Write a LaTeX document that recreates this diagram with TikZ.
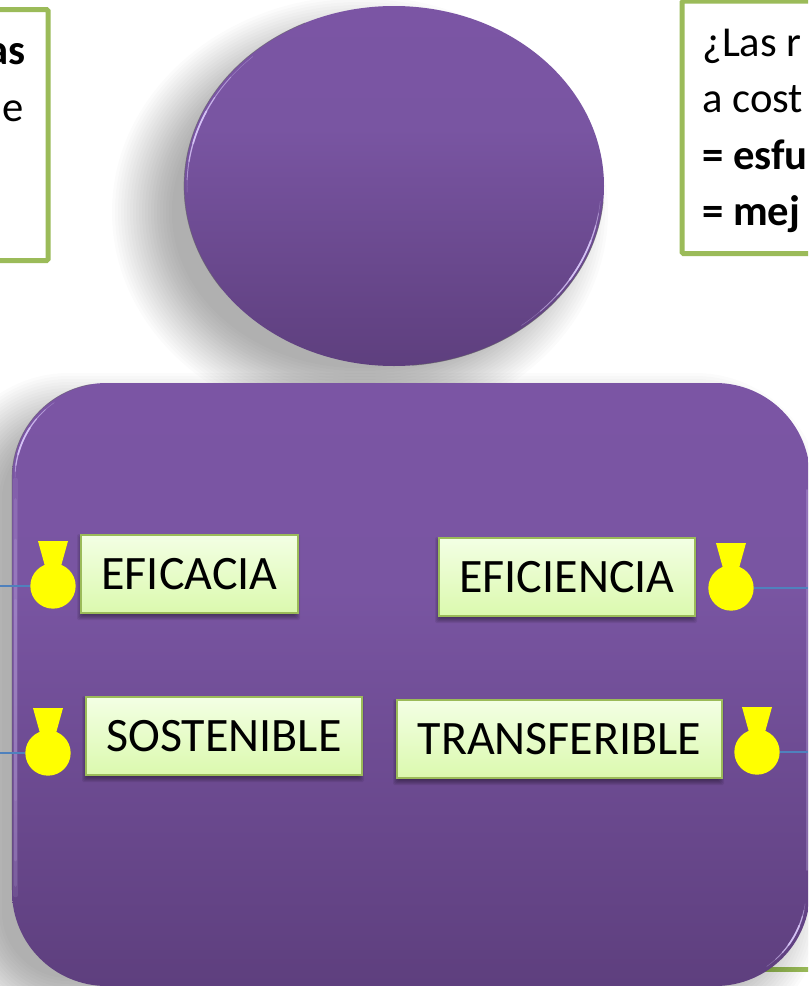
\documentclass[tikz,border=0pt]{standalone}
\usepackage{fontspec}
\setmainfont{Carlito}
\usetikzlibrary{shapes.geometric}
\definecolor{pb}{HTML}{5E3F7E}
\definecolor{pm}{HTML}{7955A2}
\definecolor{pt}{HTML}{7B55A4}
\definecolor{lime}{HTML}{9BBB59}
\definecolor{wire}{HTML}{4F81BD}
\definecolor{glow}{HTML}{D8C6F8}
\definecolor{keytop}{HTML}{F3FFE4}
\definecolor{keybot}{HTML}{DBF9AE}
\definecolor{medalfill}{HTML}{FFFF00}
\pgfdeclareverticalshading{purp}{100bp}{color(0bp)=(pb);color(25bp)=(pb);color(58bp)=(pm);color(75bp)=(pt);color(100bp)=(pt)}
\tikzset{
 px/.style={x=0.75pt,y=-0.75pt},
 purple shape/.style={shading=purp,draw=none,inner sep=0pt,outer sep=0pt},
 notebox/.style={draw=lime,line width=3.75pt,fill=white,rounded corners=1pt},
 notetext/.style={font=\fontsize{32}{32}\selectfont,inner sep=0pt,text=black},
 notebold/.style={font=\fontsize{32}{32}\selectfont\bfseries,inner sep=0pt,text=black},
 keybox/.style={draw=lime,line width=1.5pt,top color=keytop,bottom color=keybot,inner sep=0pt,outer sep=0pt,font=\fontsize{36}{36}\selectfont,text=black},
 medal/.style={circle,fill=medalfill,draw=none,minimum size=34pt,inner sep=0pt,outer sep=0pt},
 medaltop/.style={fill=medalfill,draw=none},
 feed/.style={draw=wire,line width=1.1pt},
 softshade/.style={fill=black,opacity=0.0163},
 rim/.style={line cap=round,draw=glow},
}
\newcommand{\keyshadow}[4]{%
 \foreach \dd in {0,1,...,5}{\fill[black,opacity=0.07,rounded corners=1pt] ({#1-1-\dd+2},{#2+2-\dd+2}) rectangle ({#3-1+\dd-2},{#4+2+\dd});}}
\newcommand{\keynode}[6]{%
 \keyshadow{#2}{#3}{#4}{#5}%
 \node[keybox,anchor=north west,minimum width={(#4-#2)*0.75pt},minimum height={(#5-#3)*0.75pt}] (#1) at (#2,#3) {\raisebox{-1.5pt}{#6}};}
\newcommand{\medalnode}[3]{%
 \fill[medaltop] ({#2-15},{#3-45}) -- ({#2+15},{#3-45}) -- ({#2+7.5},{#3-18}) -- ({#2-7.5},{#3-18}) -- cycle;
 \node[medal] (#1) at (#2,#3) {};}
\begin{document}
\begin{tikzpicture}[px]
\useasboundingbox (0,0) rectangle (808,986);
\clip (0,0) rectangle (808,986);
\fill[white] (0,0) rectangle (808,986);
% notes
\draw[notebox] (-20,9.5) rectangle (48,260.5);
\node[notebold,anchor=base east] (noteA) at (26,64) {as};
\node[notetext,anchor=base east] (noteB) at (24,121) {e};
\draw[notebox] (682,1) rectangle (840,253.5);
\node[notetext,anchor=base west] (noteC) at (702,56) {¿Las r};
\node[notetext,anchor=base west] (noteD) at (702,112) {a cost};
\node[notebold,anchor=base west] (noteE) at (702,169) {= esfu};
\node[notebold,anchor=base west] (noteF) at (702,225) {= mej};
% hidden box edge
\draw[lime,line width=3.75pt] (740,969) -- (830,969);
% ellipse shadow
\foreach \d in {-28,-25,...,32}{\fill[softshade] (360,212) ellipse [x radius={216+\d},y radius={184+\d}];}
% rect shadow
\foreach \d in {-28,-25,...,32}{\fill[softshade,rounded corners={(95+\d)*0.75pt}] ({-26-\d},{405-\d}) rectangle ({790+\d},{1006+\d});}
% main shapes
\node[purple shape,ellipse,minimum width=315pt,minimum height=270pt] (head) at (394,186) {};
\node[purple shape,rectangle,rounded corners=71pt,minimum width=598.5pt,minimum height=452.25pt,anchor=north west] (body) at (12,383) {};
% ellipse rims
\draw[black!60,opacity=.6,line width=.5pt] plot[domain=115:215,samples=40,smooth] ({394+210*cos(\x)},{186-180*sin(\x)});
\draw[black!60,opacity=.6,line width=.5pt] plot[domain=-85:-5,samples=40,smooth] ({394+210*cos(\x)},{186-180*sin(\x)});
\foreach \a/\b/\o/\w in {133/182/.35/.35,142/178/.45/.7,150/172/.6/1,155/166/.85/1.3}{
 \draw[rim,opacity=\o,line width=\w pt] plot[domain=\a:\b,samples=30,smooth] ({394+207*cos(\x)},{186-177*sin(\x)});}
\foreach \a/\b/\o/\w in {-52/-5/.35/.35,-45/-9/.45/.7,-38/-13/.6/1,-32/-18/.85/1.3}{
 \draw[rim,opacity=\o,line width=\w pt] plot[domain=\a:\b,samples=30,smooth] ({394+207*cos(\x)},{186-177*sin(\x)});}
% body rims
\draw[black!60,opacity=.5,line width=.5pt] plot[domain=100:180,samples=30,smooth] ({107+95*cos(\x)},{478-95*sin(\x)}) -- (12,890);
\foreach \ya/\yb/\o/\w in {480/895/.1/3.4,500/885/.12/2.8,540/860/.14/2.2,600/800/.1/1.6}{
 \draw[rim,opacity=\o,line width=\w pt] (15.5,\ya) -- (15.5,\yb);}
\foreach \a/\b/\o/\w in {125/180/.35/.35,132/176/.45/.7,140/172/.6/1,147/165/.85/1.3}{
 \draw[rim,opacity=\o,line width=\w pt] plot[domain=\a:\b,samples=30,smooth] ({107+92*cos(\x)},{478-92*sin(\x)});}
\draw[rim,opacity=.25,line width=1.2pt] (806.8,490) -- (806.8,870);
\foreach \a/\b/\o/\w in {-55/-8/.35/.35,-48/-12/.45/.7,-42/-16/.6/1,-36/-22/.85/1.3}{
 \draw[rim,opacity=\o,line width=\w pt] plot[domain=\a:\b,samples=30,smooth] ({714+92*cos(\x)},{891-92*sin(\x)});}
% keys
\keynode{kEficacia}{81}{535}{298}{613}{EFICACIA}
\keynode{kSost}{86}{697}{362}{775}{SOSTENIBLE}
\keynode{kEfic}{439}{538}{695}{616}{EFICIENCIA}
\keynode{kTrans}{397}{700}{722}{778}{TRANSFERIBLE}
% medals
\medalnode{mA}{53}{586}
\medalnode{mB}{48}{753}
\medalnode{mC}{731}{588}
\medalnode{mD}{757}{752}
% feeds
\coordinate (fA) at (0,586);
\coordinate (fB) at (0,753);
\coordinate (fC) at (808,588);
\coordinate (fD) at (808,752);
\draw[feed] (fA) -- (mA);
\draw[feed] (fB) -- (mB);
\draw[feed] (mC) -- (fC);
\draw[feed] (mD) -- (fD);
\end{tikzpicture}
\end{document}
